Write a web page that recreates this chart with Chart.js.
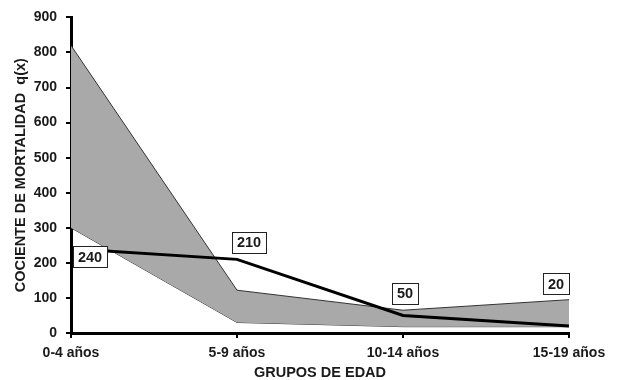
<!DOCTYPE html>
<html>
<head>
<meta charset="utf-8">
<script src="https://cdn.jsdelivr.net/npm/chart.js@4"></script>
<style>
  html, body { margin: 0; padding: 0; background: #fff; }
  canvas#myChart { display: block; }
</style>
</head>
<body>
<canvas id="myChart" width="622" height="380"></canvas>
<script>
const groups = ["0-4 años", "5-9 años", "10-14 años", "15-19 años"];
const qx = [240, 210, 50, 20];
const upperBand = [820, 122, 65, 95];
const lowerBand = [300, 30, 18, 18];
const yTicks = [0, 100, 200, 300, 400, 500, 600, 700, 800, 900];

// where each value box sits relative to its point (dx, dy)
const boxOffsets = [[19, 8], [12, -17], [2, -22], [-13, -42]];

const FONT = "'Liberation Sans', Arial, sans-serif";

const valueBoxes = {
  id: "valueBoxes",
  afterDatasetsDraw(chart) {
    const ctx = chart.ctx;
    const meta = chart.getDatasetMeta(0);
    ctx.save();
    ctx.font = `bold 14.5px ${FONT}`;
    ctx.textAlign = "center";
    ctx.textBaseline = "middle";
    meta.data.forEach((pt, i) => {
      const txt = String(qx[i]);
      const cx = pt.x + boxOffsets[i][0];
      const cy = pt.y + boxOffsets[i][1];
      const w = Math.round(ctx.measureText(txt).width + 10);
      const h = 21;
      const x0 = Math.round(cx - w / 2) + 0.5;
      const y0 = Math.round(cy - h / 2) + 0.5;
      ctx.fillStyle = "#fff";
      ctx.fillRect(x0, y0, w, h);
      ctx.strokeStyle = "#222";
      ctx.lineWidth = 1;
      ctx.strokeRect(x0, y0, w, h);
      ctx.fillStyle = "#1a1a1a";
      ctx.fillText(txt, cx, cy + 1);
    });
    ctx.restore();
  },
};

const ctx = document.querySelector("canvas#myChart").getContext("2d");
const myChart = new Chart(ctx, {
  type: "line",
  data: {
    labels: groups,
    datasets: [
      {
        data: qx,
        borderColor: "#000",
        borderWidth: 3,
        pointRadius: 0,
        fill: false,
        tension: 0,
        order: 0,
      },
      {
        data: upperBand,
        borderColor: "#333",
        borderWidth: 1,
        backgroundColor: "#a9a9a9",
        pointRadius: 0,
        fill: "+1",
        tension: 0,
        order: 1,
      },
      {
        data: lowerBand,
        borderColor: "#333",
        borderWidth: 1,
        pointRadius: 0,
        fill: false,
        tension: 0,
        order: 1,
      },
    ],
  },
  options: {
    responsive: false,
    animation: false,
    layout: { padding: { top: 15, right: 53, left: 0, bottom: 0 } },
    plugins: {
      legend: { display: false },
      tooltip: { enabled: false },
    },
    scales: {
      x: {
        offset: false,
        border: { color: "#000", width: 3 },
        grid: { drawOnChartArea: false, drawTicks: true, tickLength: 5, color: "#000", lineWidth: 2 },
        ticks: { color: "#1a1a1a", font: { family: FONT, size: 14, weight: "bold" }, padding: 7, maxRotation: 0, autoSkip: false },
        title: {
          display: true,
          text: "GRUPOS DE EDAD",
          color: "#1a1a1a",
          font: { family: FONT, size: 14.5, weight: "bold" },
          padding: { top: 0, bottom: -2 },
        },
        afterFit(scale) {
          scale.height = 47;
        },
      },
      y: {
        min: 0,
        max: 900,
        border: { color: "#000", width: 3 },
        grid: { drawOnChartArea: false, drawTicks: true, tickLength: 5, color: "#000", lineWidth: 2 },
        afterBuildTicks(scale) {
          scale.ticks = yTicks.map((v) => ({ value: v }));
        },
        ticks: { color: "#1a1a1a", font: { family: FONT, size: 14, weight: "bold" }, padding: 9 },
        title: {
          display: true,
          text: "COCIENTE DE MORTALIDAD  q(x)",
          color: "#1a1a1a",
          font: { family: FONT, size: 14.5, weight: "bold" },
          padding: { top: 12, bottom: 0 },
        },
        afterFit(scale) {
          scale.width = 71;
        },
      },
    },
  },
  plugins: [valueBoxes],
});
</script>
</body>
</html>
